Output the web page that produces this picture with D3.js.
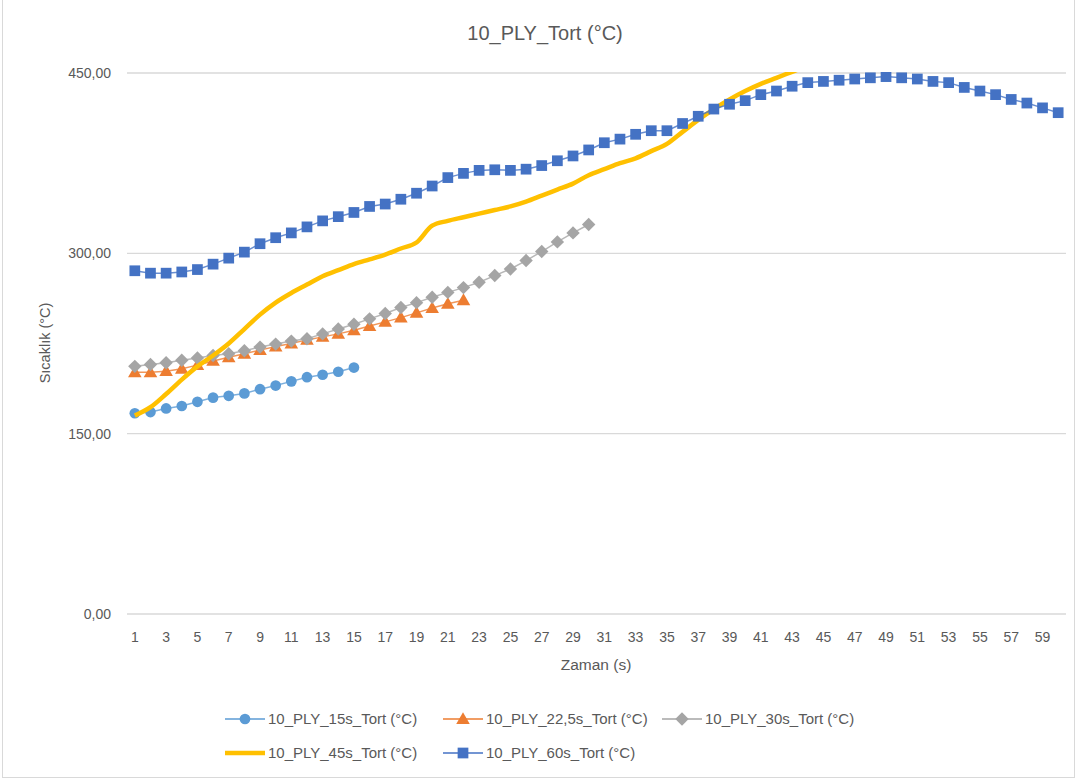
<!DOCTYPE html>
<html>
<head>
<meta charset="utf-8">
<script src="https://cdn.jsdelivr.net/npm/d3@7"></script>
<style>
  body { margin: 0; background: #fff; }
  text { font-family: "Liberation Sans", sans-serif; fill: #595959; }
</style>
</head>
<body>
<div id="chart"></div>
<script>
// zaman (s) 1..60
const categories = d3.range(1, 61);
const tickLabels = [1, 3, 5, 7, 9, 11, 13, 15, 17, 19, 21, 23, 25, 27, 29, 31, 33, 35, 37, 39, 41, 43, 45, 47, 49, 51, 53, 55, 57, 59];
const yTicks = [0, 150, 300, 450];

const s15 = [167, 168, 171, 173, 176.5, 180, 181.5, 183.5, 187, 190, 193.5, 197, 199, 201.5, 205];
const s22 = [201, 201, 202, 204, 207, 210.5, 213.5, 216.5, 219.5, 222.5, 225, 228, 230.5, 233, 236, 239.5, 243, 246.5, 250.5, 254.5, 258, 261];
const s30 = [206, 207.5, 209, 211, 213, 215, 216.5, 219, 222, 224.5, 227, 229, 233, 237, 241, 245.5, 250, 255, 259, 263.5, 267.5, 271.5, 276, 281.5, 287, 294, 301.5, 309.5, 317, 324];
const s45 = [165, 172, 183, 195, 206, 215, 225, 237, 249, 259, 267, 274, 281, 286, 291, 295, 299, 304, 309, 323, 327, 330, 333, 336, 339, 343, 348, 353, 358, 365, 370, 375, 379, 385, 391, 401, 411, 420, 428, 435, 441, 446, 451, 456];
const s60 = [285.5, 283.5, 283.5, 284.5, 286.5, 291, 296, 301, 308, 313, 317, 322, 327, 330.5, 334, 339, 341, 345, 350, 356, 363, 366.5, 369, 369.5, 369, 370, 373, 377, 381, 386, 392, 395, 399, 402, 402, 408, 414, 420, 424, 427, 432, 435, 439, 442, 443, 444, 445, 446, 447, 446, 445, 443, 442, 438, 435, 432, 428, 425, 421, 417];

const series = [
  {name: "10_PLY_15s_Tort (°C)", values: s15, color: "#5B9BD5", marker: "circle"},
  {name: "10_PLY_22,5s_Tort (°C)", values: s22, color: "#ED7D31", marker: "triangle"},
  {name: "10_PLY_30s_Tort (°C)", values: s30, color: "#A5A5A5", marker: "diamond"},
  {name: "10_PLY_45s_Tort (°C)", values: s45, color: "#FFC000", marker: null},
  {name: "10_PLY_60s_Tort (°C)", values: s60, color: "#4472C4", marker: "square"}
];

const W = 1080, H = 780;
const plot = {left: 127, right: 1066, top: 73, bottom: 614};

const svg = d3.select("#chart").append("svg")
  .attr("width", W).attr("height", H);

svg.append("rect")
  .attr("x", 2.5).attr("y", -1).attr("width", 1072).attr("height", 778.5)
  .attr("fill", "#fff").attr("stroke", "#d9d9d9");

const x = d3.scalePoint().domain(categories).range([plot.left, plot.right]).padding(0.5);
const y = d3.scaleLinear().domain([0, 450]).range([plot.bottom, plot.top]);

// grid
svg.append("g").selectAll("line").data(yTicks).join("line")
  .attr("x1", plot.left).attr("x2", plot.right)
  .attr("y1", d => y(d)).attr("y2", d => y(d))
  .attr("stroke", "#d9d9d9").attr("stroke-width", 1.3);

// y labels
svg.append("g").selectAll("text").data(yTicks).join("text")
  .attr("x", 111).attr("y", d => y(d)).attr("dy", "0.35em")
  .attr("text-anchor", "end").attr("font-size", 14)
  .text(d => d3.format(".2f")(d).replace(".", ","));

// x labels
svg.append("g").selectAll("text").data(tickLabels).join("text")
  .attr("x", d => x(d)).attr("y", 637).attr("dy", "0.35em")
  .attr("text-anchor", "middle").attr("font-size", 14)
  .text(d => d);

svg.append("text").attr("x", 545).attr("y", 33).attr("dy", "0.35em")
  .attr("text-anchor", "middle").attr("font-size", 20).text("10_PLY_Tort (°C)");
svg.append("text").attr("x", 596).attr("y", 665).attr("dy", "0.35em")
  .attr("text-anchor", "middle").attr("font-size", 15.5).text("Zaman (s)");
svg.append("text").attr("transform", "translate(45,343) rotate(-90)").attr("dy", "0.35em")
  .attr("text-anchor", "middle").attr("font-size", 14.5).text("Sıcaklık (°C)");

svg.append("clipPath").attr("id", "clip").append("rect")
  .attr("x", plot.left).attr("y", plot.top - 1).attr("width", plot.right - plot.left).attr("height", plot.bottom - plot.top + 1);

const symbolFor = {
  circle: d3.symbol().type(d3.symbolCircle).size(90),
  triangle: d3.symbol().type(d3.symbolTriangle).size(80),
  diamond: d3.symbol().type(d3.symbolSquare).size(90),
  square: d3.symbol().type(d3.symbolSquare).size(115)
};
const rot = m => (m === "diamond" ? " rotate(45)" : "");
const dy = m => (m === "triangle" ? 1 : 0);

const line = d3.line().x((d, i) => x(categories[i])).y(d => y(d));
const smooth = d3.line().x((d, i) => x(categories[i])).y(d => y(d)).curve(d3.curveMonotoneX);

const layer = svg.append("g").attr("clip-path", "url(#clip)");

series.forEach(s => {
  const g = layer.append("g");
  if (!s.marker) {
    g.append("path").attr("d", smooth(s.values)).attr("fill", "none")
      .attr("stroke", s.color).attr("stroke-width", 4.5).attr("stroke-linejoin", "round");
    return;
  }
  g.append("path").attr("d", line(s.values)).attr("fill", "none")
    .attr("stroke", s.color).attr("stroke-width", 1.5).attr("stroke-opacity", 0.8);
  g.selectAll("path.m").data(s.values).join("path").attr("class", "m")
    .attr("transform", (d, i) => `translate(${x(categories[i])},${y(d) + dy(s.marker)})${rot(s.marker)}`)
    .attr("d", symbolFor[s.marker]())
    .attr("fill", s.color);
});

// legend
const legendPos = [
  {lx: 225, ty: 719}, {lx: 443, ty: 719}, {lx: 662, ty: 719},
  {lx: 225, ty: 753}, {lx: 443, ty: 753}
];
series.forEach((s, i) => {
  const p = legendPos[i];
  const g = svg.append("g").attr("transform", `translate(${p.lx},${p.ty})`);
  g.append("line").attr("x1", 0).attr("x2", 40).attr("y1", 0).attr("y2", 0)
    .attr("stroke", s.color).attr("stroke-width", s.marker ? 1.5 : 4.5);
  if (s.marker) {
    g.append("path").attr("transform", `translate(20,${dy(s.marker)})${rot(s.marker)}`)
      .attr("d", symbolFor[s.marker]()).attr("fill", s.color);
  }
  g.append("text").attr("x", 43).attr("y", 0).attr("dy", "0.35em")
    .attr("font-size", 15).text(s.name);
});
</script>
</body>
</html>
